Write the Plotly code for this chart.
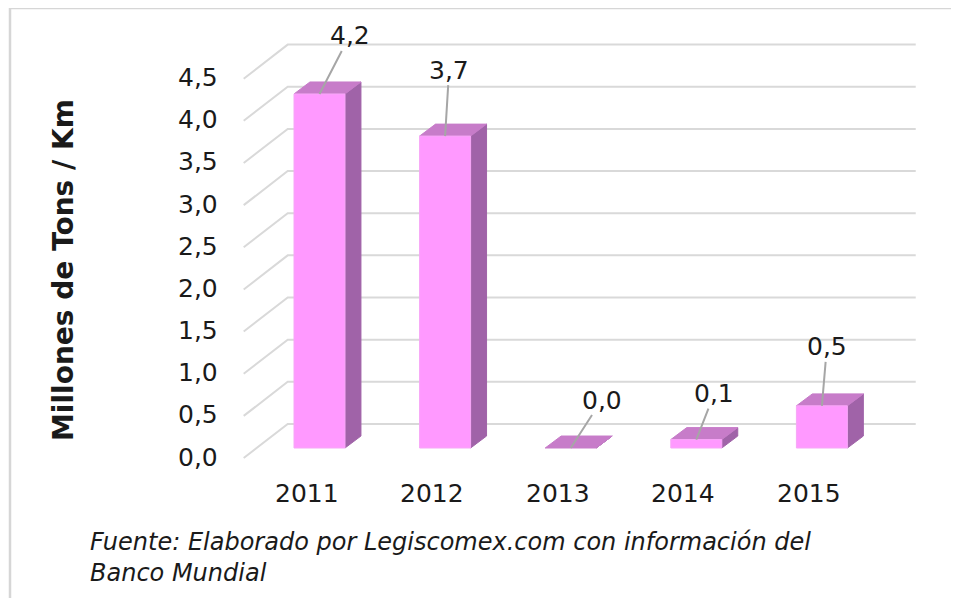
import plotly.graph_objects as go

# ---- data ----
years = ["2011", "2012", "2013", "2014", "2015"]
values = [4.2, 3.7, 0.0, 0.1, 0.5]
value_labels = ["4,2", "3,7", "0,0", "0,1", "0,5"]
y_ticks = [0.0, 0.5, 1.0, 1.5, 2.0, 2.5, 3.0, 3.5, 4.0, 4.5]
y_tick_labels = ["0,0", "0,5", "1,0", "1,5", "2,0", "2,5", "3,0", "3,5", "4,0", "4,5"]
y_title = "Millones de Tons / Km"
source_text = "Fuente: Elaborado por Legiscomex.com con información del<br>Banco Mundial"

# ---- style / geometry (axis units) ----
FONT = "DejaVu Sans"
C_FRONT = "#ff99ff"
C_TOP = "#c77cc9"
C_SIDE = "#a063a8"
C_GRID = "#d9d9d9"
HALF_W = 0.203                  # half bar width (category units)
BAR_DX, BAR_DY = 0.127, 0.142   # bar depth vector
BACK_DX, BACK_DY = 0.247, 0.285 # bar front plane -> back wall
FRONT_DX, FRONT_DY = -0.1035, -0.119  # bar front plane -> floor front edge
# pixel offsets of data labels relative to bar top (manual label placement)
label_offsets = [(30, -58), (4, -66), (31, -48), (18, -46), (5, -59)]

PAGE_OFF = 8  # default page body margin
W, H = 959 - 2 * PAGE_OFF, 606 - 2 * PAGE_OFF
X0_PX, XSTEP_PX = 319.5 - PAGE_OFF, 125.6
Y0_PX, YSTEP_PX = 448.0 - PAGE_OFF, 84.3
x_range = [-X0_PX / XSTEP_PX, (W - X0_PX) / XSTEP_PX]
y_range = [-(H - Y0_PX) / YSTEP_PX, Y0_PX / YSTEP_PX]

fig = go.Figure()

# gridlines: floor slant + back wall horizontal
n = len(years)
xl, xr = -0.5, n - 0.5
for v in y_ticks:
    fig.add_trace(go.Scatter(
        x=[xl + FRONT_DX, xl + BACK_DX, xr + BACK_DX],
        y=[v + FRONT_DY, v + BACK_DY, v + BACK_DY],
        mode="lines", line=dict(color=C_GRID, width=2),
        hoverinfo="skip", showlegend=False))

# bars (side, top, front)
for i, v in enumerate(values):
    x1, x2 = i - HALF_W, i + HALF_W
    fig.add_trace(go.Scatter(
        x=[x2, x2, x2 + BAR_DX, x2 + BAR_DX, x2],
        y=[0, v, v + BAR_DY, BAR_DY, 0],
        fill="toself", fillcolor=C_SIDE, mode="lines",
        line=dict(color=C_SIDE, width=1), hoverinfo="skip", showlegend=False))
    fig.add_trace(go.Scatter(
        x=[x1, x2, x2 + BAR_DX, x1 + BAR_DX, x1],
        y=[v, v, v + BAR_DY, v + BAR_DY, v],
        fill="toself", fillcolor=C_TOP, mode="lines",
        line=dict(color=C_TOP, width=1), hoverinfo="skip", showlegend=False))
    if v > 0:
        fig.add_trace(go.Scatter(
            x=[x1, x2, x2, x1, x1],
            y=[0, 0, v, v, 0],
            fill="toself", fillcolor=C_FRONT, mode="lines",
            line=dict(color="#f7a6f7", width=1), hoverinfo="skip", showlegend=False))

annotations = []
# y tick labels
for v, t in zip(y_ticks, y_tick_labels):
    annotations.append(dict(
        x=xl + FRONT_DX, y=v + FRONT_DY, xref="x", yref="y", text=t,
        showarrow=False, xanchor="right", yanchor="middle", xshift=-24, yshift=1,
        font=dict(family=FONT, size=25, color="#1a1a1a")))
# x category labels
for i, yr in enumerate(years):
    annotations.append(dict(
        x=i + FRONT_DX, y=FRONT_DY, xref="x", yref="y", text=yr,
        showarrow=False, xanchor="center", yanchor="middle", yshift=-35,
        font=dict(family=FONT, size=25, color="#1a1a1a")))
# data labels with leader lines
for i, (v, t) in enumerate(zip(values, value_labels)):
    ax, ay = label_offsets[i]
    annotations.append(dict(
        x=i, y=v, xref="x", yref="y", text=t,
        showarrow=True, arrowhead=0, arrowwidth=2, arrowcolor="#a6a6a6",
        ax=ax, ay=ay, standoff=0, borderpad=0,
        font=dict(family=FONT, size=25, color="#1a1a1a")))
# y axis title
annotations.append(dict(
    x=(63 - PAGE_OFF) / W, y=1 - (270 - PAGE_OFF) / H, xref="paper", yref="paper",
    text="<b>" + y_title + "</b>",
    showarrow=False, textangle=-90, xanchor="center", yanchor="middle",
    font=dict(family=FONT, size=28, color="#1a1a1a")))
# source note
annotations.append(dict(
    x=(88 - PAGE_OFF) / W, y=1 - (557 - PAGE_OFF) / H, xref="paper", yref="paper",
    text=source_text,
    showarrow=False, xanchor="left", yanchor="middle", align="left",
    font=dict(family=FONT, size=24, color="#1a1a1a", style="italic")))

fx = (10 - PAGE_OFF) / W
fy = 1 - (8 - PAGE_OFF) / H
frame_line = dict(color="#d6d6d6", width=2.5)
fig.update_layout(
    width=W, height=H,
    margin=dict(l=0, r=0, t=0, b=0),
    paper_bgcolor="white", plot_bgcolor="white",
    xaxis=dict(range=x_range, visible=False, fixedrange=True),
    yaxis=dict(range=y_range, visible=False, fixedrange=True),
    annotations=annotations,
    shapes=[
        dict(type="line", xref="paper", yref="paper", x0=fx, x1=fx, y0=-0.05, y1=fy,
             line=frame_line, layer="below"),
        dict(type="line", xref="paper", yref="paper", x0=fx, x1=1.05, y0=fy, y1=fy,
             line=frame_line, layer="below"),
    ],
    showlegend=False,
)

fig.write_html("out.html", config={"displayModeBar": False})
